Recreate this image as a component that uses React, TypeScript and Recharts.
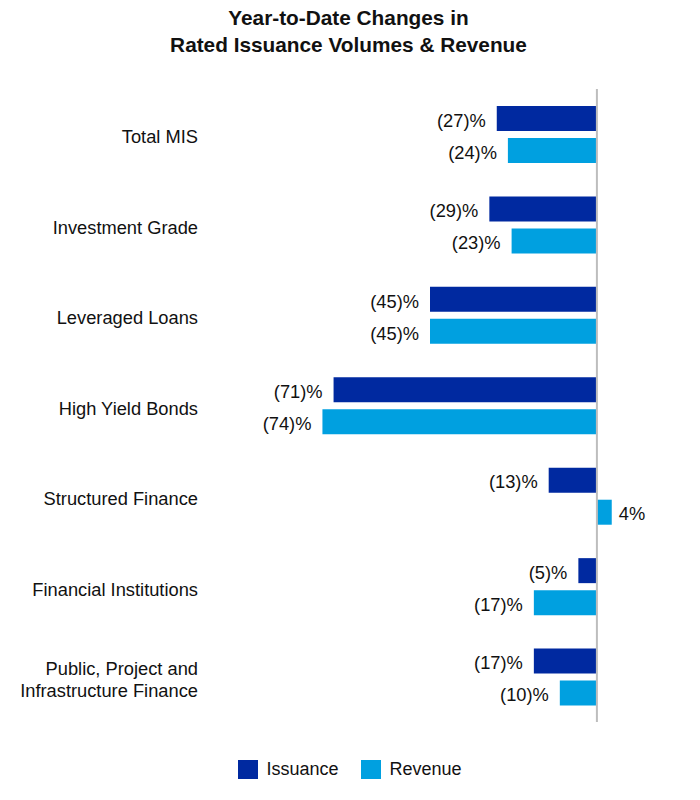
import React from 'react';
import {
  BarChart,
  Bar,
  XAxis,
  YAxis,
  LabelList,
  Legend,
  ReferenceLine,
} from 'recharts';

// Year-to-date % changes
const categories = [
  'Total MIS',
  'Investment Grade',
  'Leveraged Loans',
  'High Yield Bonds',
  'Structured Finance',
  'Financial Institutions',
  'Public, Project and Infrastructure Finance',
];
const issuance = [-27, -29, -45, -71, -13, -5, -17];
const revenue = [-24, -23, -45, -74, 4, -17, -10];

const ISSUANCE_COLOR = '#0029A0';
const REVENUE_COLOR = '#00A0E0';
const FONT = '"Liberation Sans", Arial, sans-serif';

const chartData = categories.map((name, i) => ({
  name,
  Issuance: issuance[i],
  Revenue: revenue[i],
}));

// simple word wrap for the long category names
const wrap = (text: string, maxChars = 22) => {
  const lines: string[] = [];
  let cur = '';
  text.split(' ').forEach((w) => {
    const next = cur ? cur + ' ' + w : w;
    if (next.length > maxChars && cur) {
      lines.push(cur);
      cur = w;
    } else {
      cur = next;
    }
  });
  if (cur) lines.push(cur);
  return lines;
};

const CategoryTick = (props: any) => {
  const { x, y, payload } = props;
  const lines = wrap(String(payload.value));
  const lineH = 22;
  const startY = y - ((lines.length - 1) * lineH) / 2;
  return (
    <text x={x} y={startY} textAnchor="end" fill="#111" fontSize={18.3} fontFamily={FONT}>
      {lines.map((l, i) => (
        <tspan key={i} x={x} y={startY + i * lineH} dy="0.5em">
          {l}
        </tspan>
      ))}
    </text>
  );
};

const ValueLabel = (props: any) => {
  const { x, y, width, height, value } = props;
  const left = Math.min(x, x + width);
  const right = Math.max(x, x + width);
  const neg = value < 0;
  const text = neg ? `(${-value})%` : `${value}%`;
  return (
    <text
      x={neg ? left - 11 : right + 7}
      y={y + height / 2}
      dy="0.45em"
      textAnchor={neg ? 'end' : 'start'}
      fill="#111"
      fontSize={18.3}
      fontFamily={FONT}
    >
      {text}
    </text>
  );
};

const LegendContent = () => (
  <div
    style={{
      display: 'flex',
      justifyContent: 'center',
      alignItems: 'center',
      height: 24,
      fontFamily: FONT,
      fontSize: 18,
      color: '#111',
    }}
  >
    {[
      { label: 'Issuance', color: ISSUANCE_COLOR },
      { label: 'Revenue', color: REVENUE_COLOR },
    ].map((item, i) => (
      <div key={item.label} style={{ display: 'flex', alignItems: 'center', marginLeft: i ? 23 : 0 }}>
        <span style={{ width: 20, height: 19, background: item.color, display: 'inline-block', marginRight: 8 }} />
        <span>{item.label}</span>
      </div>
    ))}
  </div>
);

export default function App() {
  return (
    <div style={{ position: 'absolute', left: 0, top: 0, width: 700, height: 800, background: '#fff' }}>
      <div
        style={{
          position: 'absolute',
          top: 4,
          left: 0,
          width: 697,
          textAlign: 'center',
          fontFamily: FONT,
          fontWeight: 'bold',
          fontSize: 20.8,
          lineHeight: '27px',
          color: '#111',
        }}
      >
        Year-to-Date Changes in
        <br />
        Rated Issuance Volumes &amp; Revenue
      </div>
      <BarChart
        width={700}
        height={800}
        data={chartData}
        layout="vertical"
        margin={{ top: 89, right: 66, left: 0, bottom: 54 }}
        barSize={25}
        barGap={7}
      >
        <XAxis type="number" domain={[-100, 10]} hide />
        <YAxis
          type="category"
          dataKey="name"
          width={226}
          axisLine={false}
          tickLine={false}
          tickSize={0}
          tickMargin={28}
          tick={<CategoryTick />}
          interval={0}
        />
        <Legend
          verticalAlign="bottom"
          content={<LegendContent />}
          wrapperStyle={{ bottom: 19, left: 0, width: 700 }}
        />
        <Bar dataKey="Issuance" fill={ISSUANCE_COLOR} isAnimationActive={false}>
          <LabelList dataKey="Issuance" content={<ValueLabel />} />
        </Bar>
        <Bar dataKey="Revenue" fill={REVENUE_COLOR} isAnimationActive={false}>
          <LabelList dataKey="Revenue" content={<ValueLabel />} />
        </Bar>
        <ReferenceLine x={0} stroke="#BDBDBD" strokeWidth={2} />
      </BarChart>
    </div>
  );
}
